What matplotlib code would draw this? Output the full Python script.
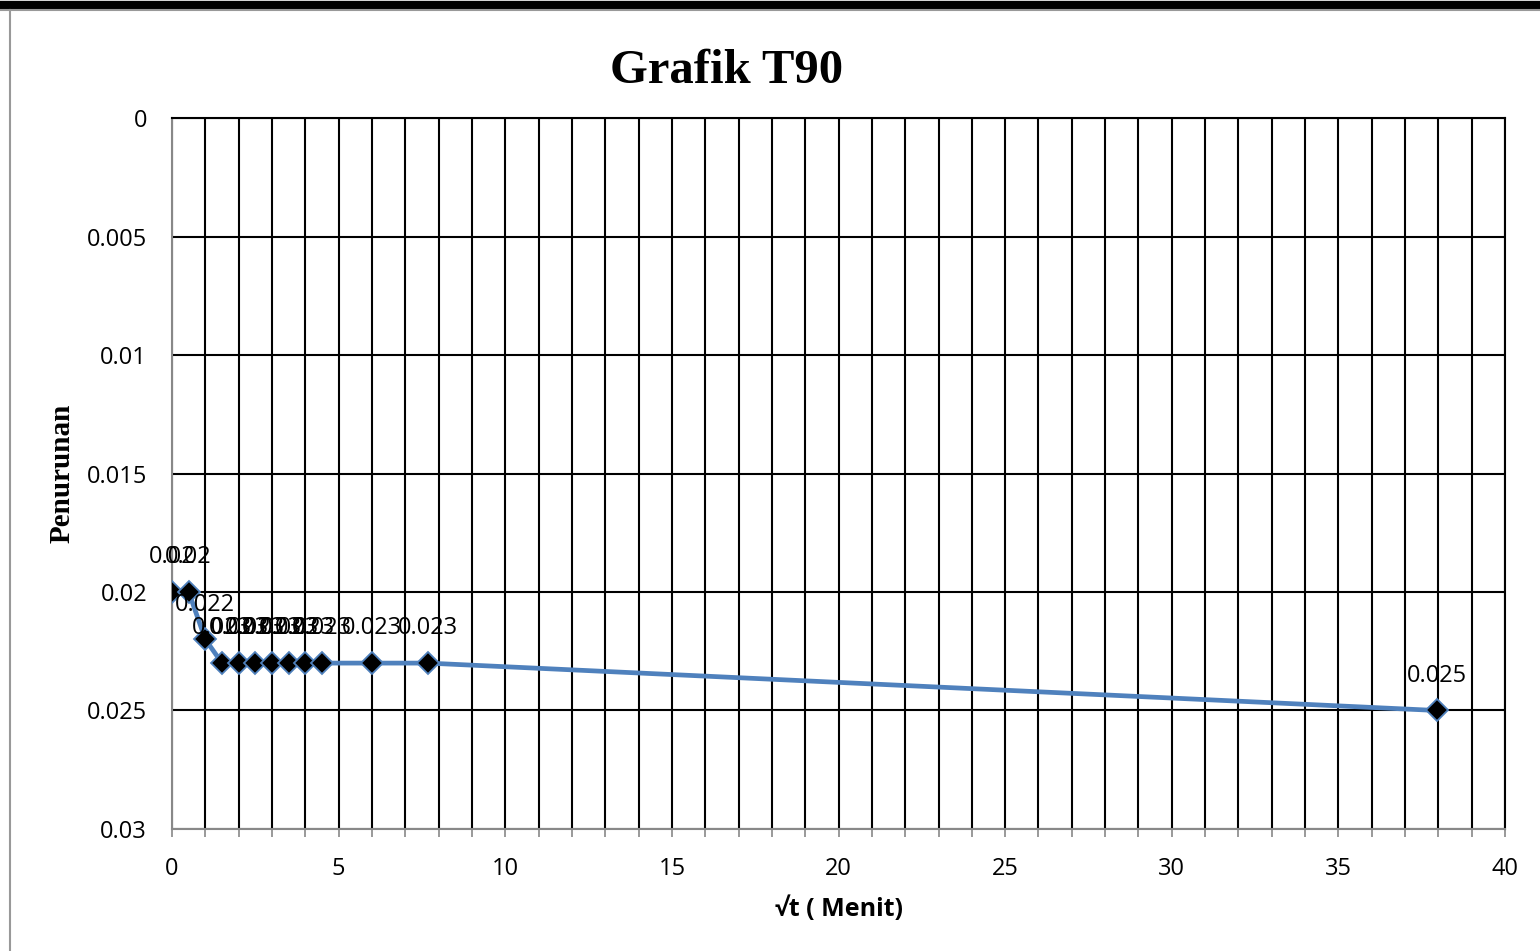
import matplotlib
matplotlib.use("Agg")
import matplotlib.pyplot as plt
from matplotlib.lines import Line2D

# akar waktu (menit) dan penurunan
akar_t = [0, 0.5, 1, 1.5, 2, 2.5, 3, 3.5, 4, 4.5, 6, 7.68, 37.95]
penurunan = [0.02, 0.02, 0.022, 0.023, 0.023, 0.023, 0.023, 0.023, 0.023,
             0.023, 0.023, 0.023, 0.025]

x_major = list(range(0, 41, 5))
x_minor = list(range(0, 41))
y_ticks = [0, 0.005, 0.01, 0.015, 0.02, 0.025, 0.03]
y_labels = ["0", "0.005", "0.01", "0.015", "0.02", "0.025", "0.03"]

fig = plt.figure(figsize=(15.4, 9.51), dpi=100)

# bingkai luar
fig.add_artist(Line2D([0, 1], [0.995, 0.995], transform=fig.transFigure,
                      color="black", lw=6))
fig.add_artist(Line2D([0, 1], [0.9895, 0.9895], transform=fig.transFigure,
                      color="#999999", lw=1.5))
fig.add_artist(Line2D([0.0068, 0.0068], [0, 0.99], transform=fig.transFigure,
                      color="#999999", lw=1.5))

ax = fig.add_axes([0.1117, 0.1283, 0.8656, 0.7476])

ax.plot(akar_t, penurunan, color="#4F81BD", lw=3.4, marker="D", ms=11,
        markerfacecolor="black", markeredgecolor="#4F81BD", markeredgewidth=1.3,
        zorder=3)

for x, y in zip(akar_t, penurunan):
    ax.annotate(f"{y:g}", (x, y), xytext=(0, 25), textcoords="offset points",
                ha="center", va="center", fontsize=17, family="Open Sans",
                zorder=4)

ax.set_xlim(0, 40)
ax.set_ylim(0.03, 0)
ax.set_xticks(x_major)
ax.set_xticks(x_minor, minor=True)
ax.set_yticks(y_ticks)
ax.set_yticklabels(y_labels)

ax.grid(which="both", axis="x", color="black", lw=1.5)
ax.grid(which="major", axis="y", color="black", lw=1.5)
ax.set_axisbelow(True)

for side in ["left", "bottom"]:
    ax.spines[side].set_color("#888888")
    ax.spines[side].set_linewidth(1.5)
for side in ["top", "right"]:
    ax.spines[side].set_color("black")
    ax.spines[side].set_linewidth(1.5)

ax.tick_params(axis="x", which="both", direction="out", length=6,
               color="#888888", width=1.2, pad=14)
ax.tick_params(axis="y", which="both", length=0, pad=18)
for lbl in ax.get_xticklabels() + ax.get_yticklabels():
    lbl.set_fontfamily("Open Sans")
    lbl.set_fontsize(17)

ax.set_xlabel("√t ( Menit)", fontsize=18, fontweight="bold",
              family="Open Sans", labelpad=11)
ax.set_ylabel("Penurunan", fontsize=21, fontweight="bold",
              family="Liberation Serif", labelpad=8)

fig.text(0.4715, 0.925, "Grafik T90", ha="center", va="center",
         fontsize=35, fontweight="bold", family="Liberation Serif")

fig.savefig("out.png", dpi=100)
